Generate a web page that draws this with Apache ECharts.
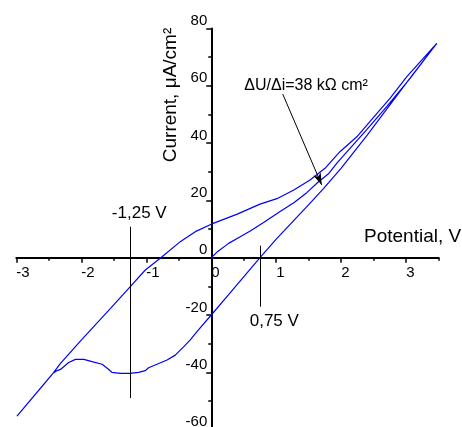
<!DOCTYPE html>
<html>
<head>
<meta charset="utf-8">
<script src="https://cdn.jsdelivr.net/npm/echarts@6/dist/echarts.min.js"></script>
<style>
  html, body { margin: 0; padding: 0; background: #fff; }
  #chart { width: 462px; height: 427px; }
</style>
</head>
<body>
<div id="chart"></div>
<script>
// Sweep in recorded order: potential (V) and current density (µA/cm²)
const sweepPotential = [
  0, 0.1, 0.267, 0.446, 0.6, 0.805, 1.06, 1.27, 1.47, 1.65, 1.81, 1.93, 2.09, 2.39, 2.70, 3.06, 3.47,
  3.01, 2.75, 2.55, 2.24, 1.98, 1.75, 1.52, 1.27, 1.01, 0.75, 0.40, 0, -0.246, -0.477, -0.785, -1.015, -1.246, -1.55, -1.99, -2.32, -2.43, -2.99,
  -2.60, -2.43, -2.37, -2.32, -2.195, -2.09, -1.96, -1.835, -1.68, -1.60, -1.53, -1.40, -1.25, -1.118, -1.015, -0.965, -0.835, -0.68, -0.554, -0.426, -0.323, -0.22, 0,
  0.30, 0.75, 1.0, 1.5, 1.73, 2.0, 2.4, 3.0, 3.47
];
const sweepCurrent = [
  0, 2.2, 5.0, 7.3, 9.3, 12.3, 16.1, 19.2, 22.7, 26.5, 29.4, 32.9, 37.0, 44.6, 52.7, 62.6, 74.8,
  63.2, 55.6, 50.4, 42.2, 37.0, 31.2, 27.1, 23.6, 20.6, 18.7, 15.2, 11.7, 9.1, 5.6, -0.2, -4.3, -10.1, -17.7, -28.5, -36.9, -40.2, -55.3,
  -44.8, -40.2, -39.4, -39.0, -36.6, -35.5, -35.5, -36.3, -37.2, -38.6, -40.0, -40.4, -40.4, -40.0, -39.4, -38.4, -37.2, -35.7, -34.0, -31.1, -28.7, -25.8, -20.0,
  -12.0, 0, 6.5, 18.5, 24.2, 31.3, 42.8, 60.9, 74.8
];

// Marked potentials (V)
const markedPotentials = [-1.25, 0.75];
// Slope annotation text
const slopeText = 'ΔU/Δi=38 kΩ cm²';

// Axis ranges and tick spacing
const xRange = [-3, 3.5];
const yRange = [-60, 80];
const xStep = 1;
const yStep = 20;

const FONT = '"Liberation Sans", Arial, sans-serif';
const BLACK = '#000';
const W = 462, H = 427;

// Plot box; the axes are shifted inward so they cross at the origin
const grid = { left: 16.3, right: 23.3, top: 28.5, bottom: -2.6 };
const plotW = W - grid.left - grid.right;
const plotH = H - grid.top - grid.bottom;
const zeroX = grid.left + (0 - xRange[0]) / (xRange[1] - xRange[0]) * plotW;
const zeroY = grid.top + (yRange[1] - 0) / (yRange[1] - yRange[0]) * plotH;
const yAxisOffset = -(zeroX - grid.left);
const xAxisOffset = -(H - grid.bottom - zeroY);

const points = sweepPotential.map((v, i) => [v, sweepCurrent[i]]);
const fmtVolt = v => v.toFixed(2).replace('.', ',') + ' V';

const chart = echarts.init(document.getElementById('chart'), null, { renderer: 'canvas' });

const axisLineStyle = { color: BLACK, width: 2 };
const tickStyle = { color: BLACK, width: 1.5 };

chart.setOption({
  animation: false,
  grid: Object.assign({ containLabel: false, outerBoundsMode: 'none' }, grid),
  xAxis: [
    {
      type: 'value', min: xRange[0], max: xRange[1], interval: xStep, position: 'bottom',
      offset: xAxisOffset,
      axisLine: { onZero: false, lineStyle: axisLineStyle },
      axisTick: { length: 5, lineStyle: tickStyle },
      axisLabel: {
        margin: 8, align: 'left', showMaxLabel: false,
        fontSize: 15, color: BLACK, fontFamily: FONT
      },
      splitLine: { show: false }
    },
    {
      // half-step ticks
      type: 'value', min: xRange[0], max: xRange[1], interval: xStep / 2, position: 'bottom',
      offset: xAxisOffset,
      axisLine: { show: false, onZero: false },
      axisTick: { length: 3, lineStyle: tickStyle },
      axisLabel: { show: false },
      splitLine: { show: false }
    }
  ],
  yAxis: {
    type: 'value', min: yRange[0], max: yRange[1], interval: yStep, position: 'left',
    offset: yAxisOffset,
    axisLine: { onZero: false, lineStyle: axisLineStyle },
    axisTick: { length: 5, lineStyle: tickStyle },
    minorTick: { show: true, splitNumber: 2, length: 3, lineStyle: tickStyle },
    axisLabel: {
      margin: 4, verticalAlign: 'bottom',
      fontSize: 15, color: BLACK, fontFamily: FONT
    },
    splitLine: { show: false },
    minorSplitLine: { show: false }
  },
  graphic: [
    {
      type: 'text', x: 171, y: 95, rotation: Math.PI / 2, silent: true,
      style: {
        text: 'Current, μA/cm²', fill: BLACK, font: '19px ' + FONT,
        textAlign: 'center', textVerticalAlign: 'middle', align: 'center', verticalAlign: 'middle'
      }
    },
    {
      type: 'text', x: 364, y: 237, silent: true,
      style: {
        text: 'Potential, V', fill: BLACK, font: '19px ' + FONT,
        textAlign: 'left', textVerticalAlign: 'middle', align: 'left', verticalAlign: 'middle'
      }
    }
  ],
  series: [{
    type: 'line',
    data: points,
    showSymbol: false,
    symbol: 'none',
    silent: true,
    lineStyle: { color: '#0000ff', width: 1.2 },
    markLine: {
      silent: true,
      animation: false,
      symbol: ['none', 'none'],
      label: { show: false },
      emphasis: { disabled: true },
      lineStyle: { color: BLACK, width: 1, type: 'solid' },
      data: [
        [{ coord: [markedPotentials[0], 10.8] }, { coord: [markedPotentials[0], -49] }],
        [{ coord: [markedPotentials[1], 4.2] }, { coord: [markedPotentials[1], -17.1] }],
        [{ coord: [1.10, 57.1] }, { coord: [1.70, 25.4], symbol: 'arrow', symbolSize: [6, 12] }]
      ]
    },
    markPoint: {
      silent: true,
      animation: false,
      symbol: 'rect',
      symbolSize: 1,
      itemStyle: { color: 'rgba(0,0,0,0)' },
      label: {
        show: true, position: 'inside', color: BLACK, fontFamily: FONT, fontSize: 17,
        formatter: p => p.name
      },
      data: [
        { name: fmtVolt(markedPotentials[0]), coord: [-1.108, 15.5] },
        { name: fmtVolt(markedPotentials[1]), coord: [0.97, -22.3] },
        { name: slopeText, coord: [1.46, 59.9], label: { fontSize: 16 } }
      ]
    }
  }]
});
</script>
</body>
</html>
